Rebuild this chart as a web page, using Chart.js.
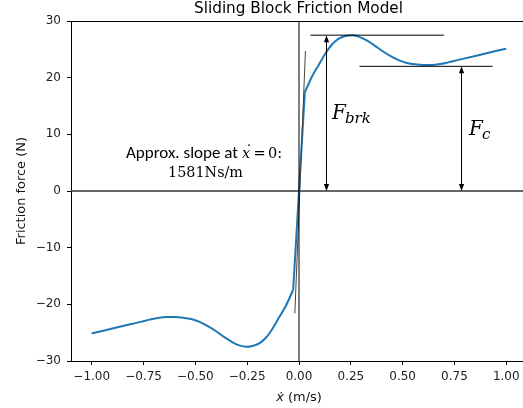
<!DOCTYPE html>
<html>
<head>
<meta charset="utf-8">
<script src="https://cdn.jsdelivr.net/npm/chart.js@4.4.1/dist/chart.umd.min.js"></script>
<style>
  html, body { margin: 0; padding: 0; background: #fff; overflow: hidden; }
  #wrap { width: 528px; height: 408px; }
</style>
</head>
<body>
<div id="wrap"><canvas id="c" width="528" height="408"></canvas></div>
<script>
// ---- data ----
const velocity = [
  -1.00, -0.96, -0.92, -0.88, -0.84, -0.80, -0.76, -0.72, -0.68, -0.64, -0.60, -0.56, -0.52, -0.48, -0.44, -0.40, -0.36,
  -0.32, -0.288, -0.256, -0.224, -0.192, -0.16, -0.128, -0.096, -0.064, -0.04, -0.028,
  0.00,
  0.028, 0.04, 0.064, 0.096, 0.128, 0.16, 0.192, 0.224, 0.256, 0.288, 0.32,
  0.36, 0.40, 0.44, 0.48, 0.52, 0.56, 0.60, 0.64, 0.68, 0.72, 0.76, 0.80, 0.84, 0.88, 0.92, 0.96, 1.00
];
const friction = [
  -25.1, -24.8, -24.45, -24.1, -23.75, -23.4, -23.05, -22.7, -22.4, -22.25, -22.25, -22.35, -22.6, -23.1, -23.85, -24.75, -25.8,
  -26.7, -27.25, -27.5, -27.35, -26.9, -25.9, -24.3, -22.3, -20.3, -18.4, -17.4,
  0.0,
  17.4, 18.4, 20.3, 22.3, 24.3, 25.9, 26.9, 27.35, 27.5, 27.25, 26.7,
  25.8, 24.75, 23.85, 23.1, 22.6, 22.35, 22.25, 22.25, 22.4, 22.7, 23.05, 23.4, 23.75, 24.1, 24.45, 24.8, 25.1
];
const xTicks = [-1.00, -0.75, -0.50, -0.25, 0.00, 0.25, 0.50, 0.75, 1.00];
const yTicks = [-30, -20, -10, 0, 10, 20, 30];
const xRange = [-1.1, 1.1];
const yRange = [-30, 30];

const fBreakaway = 27.5;
const fBreakawaySpan = [0.055, 0.699];
const fCoulomb = 22.0;
const fCoulombSpan = [0.292, 0.934];
const fBreakawayArrowX = 0.128;
const fCoulombArrowX = 0.783;
const tangentX = [-0.020, 0.031];
const tangentY = [-21.6, 24.7];

const titleText = 'Sliding Block Friction Model';
const yTitle = 'Friction force (N)';
const slopeValue = '1581Ns/m';

const fmtMinus = s => s.replace('-', '\u2212');

const points = velocity.map((v, i) => ({ x: v, y: friction[i] }));
const zeroIdx = velocity.indexOf(0);
const negArm = points.slice(0, zeroIdx);
const center = points.slice(zeroIdx - 1, zeroIdx + 2);
const posArm = points.slice(zeroIdx + 1);

function seg(x0, y0, x1, y1) { return [{ x: x0, y: y0 }, { x: x1, y: y1 }]; }

function fitSize(ctx, text, style, family, target) {
  ctx.font = style + ' 20px ' + family;
  return 20 * target / ctx.measureText(text).width;
}

const annot = {
  id: 'annot',
  afterDatasetsDraw(chart) {
    const ctx = chart.ctx;
    const xs = chart.scales.x, ys = chart.scales.y;
    const ca = chart.chartArea;
    ctx.save();
    // top spine
    ctx.strokeStyle = '#000';
    ctx.lineWidth = 1;
    ctx.beginPath();
    ctx.moveTo(ca.left, Math.round(ca.top) + 0.5);
    ctx.lineTo(ca.right, Math.round(ca.top) + 0.5);
    ctx.stroke();

    // arrows
    function arrow(xv, y0v, y1v) {
      const px = Math.round(xs.getPixelForValue(xv)) + 0.5;
      const p0 = ys.getPixelForValue(y0v), p1 = ys.getPixelForValue(y1v);
      const hl = 7, hw = 2.6;
      ctx.strokeStyle = '#000';
      ctx.fillStyle = '#000';
      ctx.lineWidth = 1;
      ctx.beginPath();
      ctx.moveTo(px, p0 - hl + 1);
      ctx.lineTo(px, p1 + hl - 1);
      ctx.stroke();
      ctx.beginPath();
      ctx.moveTo(px, p1); ctx.lineTo(px - hw, p1 + hl); ctx.lineTo(px + hw, p1 + hl); ctx.closePath(); ctx.fill();
      ctx.beginPath();
      ctx.moveTo(px, p0); ctx.lineTo(px - hw, p0 - hl); ctx.lineTo(px + hw, p0 - hl); ctx.closePath(); ctx.fill();
    }
    arrow(fBreakawayArrowX, 0, fBreakaway);
    arrow(fCoulombArrowX, 0, fCoulomb);

    const DJ = '"DejaVu Sans"';
    // title
    ctx.fillStyle = '#000';
    ctx.textBaseline = 'middle';
    ctx.textAlign = 'center';
    const ts = fitSize(ctx, titleText, '', DJ, 209);
    ctx.font = ts.toFixed(2) + 'px ' + DJ;
    ctx.fillText(titleText, 298.5, 9.5);

    // y title
    ctx.save();
    ctx.translate(22, 191);
    ctx.rotate(-Math.PI / 2);
    const ys2 = fitSize(ctx, yTitle, '', DJ, 108);
    ctx.font = ys2.toFixed(2) + 'px ' + DJ;
    ctx.fillStyle = '#111';
    ctx.fillText(yTitle, 0, 0);
    ctx.restore();

    // x title: x-dot (m/s)
    ctx.textAlign = 'left';
    ctx.textBaseline = 'alphabetic';
    const fs = ys2.toFixed(2) + 'px ' + DJ;
    ctx.font = 'italic ' + fs;
    const w1 = ctx.measureText('\u1E8B').width;
    ctx.font = fs;
    const w2 = ctx.measureText(' (m/s)').width;
    let sx = 299 - (w1 + w2) / 2;
    ctx.font = 'italic ' + fs;
    ctx.fillStyle = '#111';
    ctx.fillText('\u1E8B', sx, 401);
    ctx.font = fs;
    ctx.fillText(' (m/s)', sx + w1, 401);

    // slope annotation
    ctx.fillStyle = '#000';
    const t1 = 'Approx. slope at';
    const cs = fitSize(ctx, t1, '', 'Carlito', 112);
    ctx.font = cs.toFixed(2) + 'px Carlito';
    ctx.fillText(t1, 126, 158.3);
    ctx.font = 'italic 14.5px "DejaVu Serif"';
    ctx.fillText('x', 242, 158.3);
    ctx.fillText('\u02D9', 244, 156);
    ctx.font = '14.5px "DejaVu Serif"';
    ctx.fillText('=', 253.5, 158.3);
    ctx.fillText('0:', 268, 158.3);
    ctx.textAlign = 'center';
    const ss = fitSize(ctx, slopeValue, '', '"DejaVu Serif"', 75);
    ctx.font = ss.toFixed(2) + 'px "DejaVu Serif"';
    ctx.fillText(slopeValue, 205.5, 176.7);

    // F_brk
    ctx.textAlign = 'left';
    ctx.font = 'italic 20px "DejaVu Serif"';
    ctx.fillText('F', 332, 119);
    let fw = ctx.measureText('F').width;
    ctx.font = 'italic 15px "DejaVu Serif"';
    ctx.fillText('brk', 332 + fw - 1, 123);
    // F_c
    ctx.font = 'italic 20px "DejaVu Serif"';
    ctx.fillText('F', 469, 134.5);
    fw = ctx.measureText('F').width;
    ctx.font = 'italic 15px "DejaVu Serif"';
    ctx.fillText('c', 469 + fw - 1, 138.5);
    ctx.restore();
  }
};

const lineDs = (data, color, width, order, smooth) => ({
  data, borderColor: color, borderWidth: width, pointRadius: 0, fill: false, order,
  tension: smooth ? 0.4 : 0, cubicInterpolationMode: smooth ? 'monotone' : 'default'
});

new Chart(document.getElementById('c'), {
  type: 'line',
  data: {
    datasets: [
      lineDs(negArm, '#1f77b4', 2, 10, true),
      lineDs(center, '#1f77b4', 2, 10, false),
      lineDs(posArm, '#1f77b4', 2, 10, true),
      lineDs(seg(xRange[0], 0, xRange[1], 0), '#333', 1.3, 2),
      lineDs(seg(0, yRange[0], 0, yRange[1]), '#000', 1, 1),
      lineDs(seg(tangentX[0], tangentY[0], tangentX[1], tangentY[1]), '#444', 1, 1),
      lineDs(seg(fBreakawaySpan[0], fBreakaway, fBreakawaySpan[1], fBreakaway), '#000', 1, 1),
      lineDs(seg(fCoulombSpan[0], fCoulomb, fCoulombSpan[1], fCoulomb), '#000', 1, 1)
    ]
  },
  options: {
    responsive: false,
    animation: false,
    devicePixelRatio: 1,
    layout: { padding: { top: 21, left: 0, right: 1, bottom: 0 } },
    plugins: { legend: { display: false }, tooltip: { enabled: false }, title: { display: false } },
    scales: {
      x: {
        type: 'linear', min: xRange[0], max: xRange[1],
        afterBuildTicks: s => { s.ticks = xTicks.map(v => ({ value: v })); },
        afterFit: s => { s.height = 47; },
        grid: { drawOnChartArea: false, drawTicks: true, tickLength: 4, color: '#000', tickWidth: 1 },
        border: { display: true, color: '#000', width: 1 },
        ticks: {
          color: '#222', font: { family: 'DejaVu Sans', size: 12 }, padding: 5, maxRotation: 0,
          callback: v => fmtMinus(Number(v).toFixed(2))
        }
      },
      y: {
        type: 'linear', min: yRange[0], max: yRange[1],
        afterBuildTicks: s => { s.ticks = yTicks.map(v => ({ value: v })); },
        afterFit: s => { s.width = 71; },
        grid: { drawOnChartArea: false, drawTicks: true, tickLength: 4, color: '#000', tickWidth: 1 },
        border: { display: true, color: '#000', width: 1 },
        ticks: {
          color: '#222', font: { family: 'DejaVu Sans', size: 12 }, padding: 6,
          callback: v => fmtMinus(String(v))
        }
      }
    }
  },
  plugins: [annot]
});
</script>
</body>
</html>
